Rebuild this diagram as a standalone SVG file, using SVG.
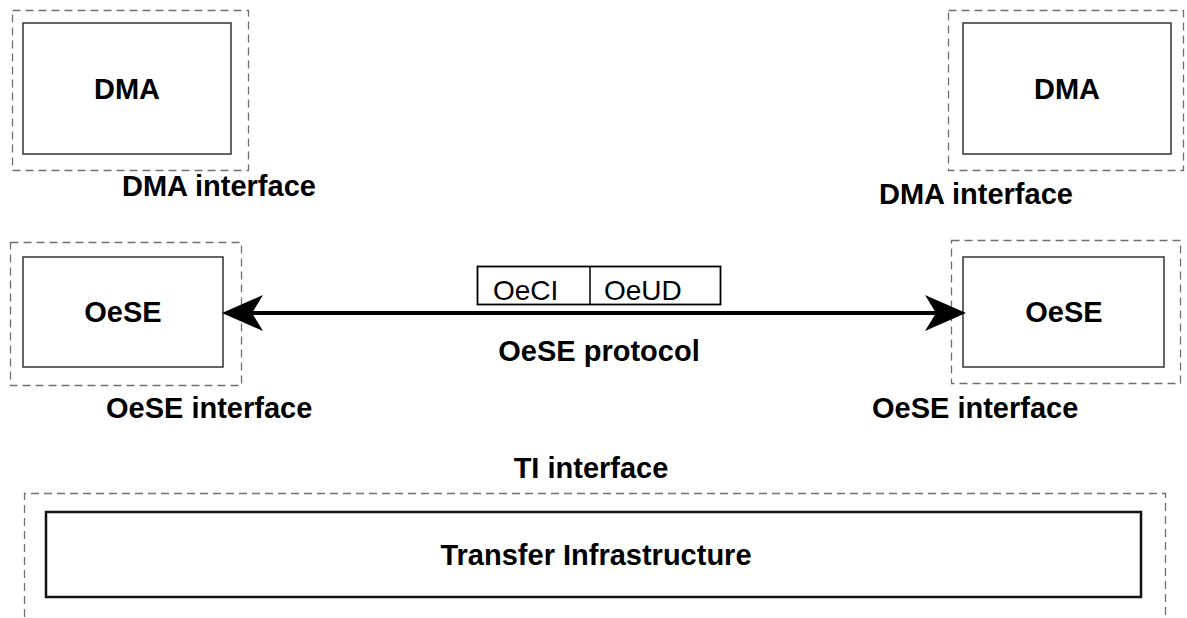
<svg xmlns="http://www.w3.org/2000/svg" width="1187" height="618" viewBox="0 0 1187 618">
  <style>
    .iface { fill: none; stroke: #707070; stroke-width: 1.3; stroke-dasharray: 8 5; }
    .box { fill: #ffffff; stroke: #333333; stroke-width: 1.5; }
    .bold { font-family: "Liberation Sans", Arial, sans-serif; font-weight: bold; font-size: 29px; fill: #000000; }
    .plain { font-family: "Liberation Sans", Arial, sans-serif; font-size: 28px; fill: #000000; }
    .mid { text-anchor: middle; }
  </style>
  <defs>
    <marker id="head" markerUnits="userSpaceOnUse" markerWidth="41" markerHeight="36" refX="11" refY="18" orient="auto-start-reverse" overflow="visible">
      <path d="M0,0 L41,18 L0,36 L11,18 Z" fill="#000000"/>
    </marker>
  </defs>
  <rect width="1187" height="618" fill="#ffffff"/>

  <!-- DMA, left -->
  <g id="dma-left">
    <rect class="iface" x="12.5" y="10.5" width="236" height="160"/>
    <rect class="box" x="23" y="23" width="208" height="131"/>
    <text class="bold mid" x="127" y="99">DMA</text>
    <text class="bold" x="122" y="196">DMA interface</text>
  </g>

  <!-- DMA, right -->
  <g id="dma-right">
    <rect class="iface" x="948.5" y="10.5" width="235" height="160"/>
    <rect class="box" x="963" y="23" width="208" height="131"/>
    <text class="bold mid" x="1067" y="99">DMA</text>
    <text class="bold" x="879" y="204">DMA interface</text>
  </g>

  <!-- OeSE, left -->
  <g id="oese-left">
    <rect class="iface" x="10.5" y="242.5" width="231" height="143"/>
    <rect class="box" x="23" y="257" width="200" height="110"/>
    <text class="bold mid" x="123" y="322">OeSE</text>
    <text class="bold" x="106" y="418">OeSE interface</text>
  </g>

  <!-- OeSE, right -->
  <g id="oese-right">
    <rect class="iface" x="951.5" y="240.5" width="229" height="143"/>
    <rect class="box" x="963" y="257" width="201" height="110"/>
    <text class="bold mid" x="1064" y="322">OeSE</text>
    <text class="bold" x="872" y="418">OeSE interface</text>
  </g>

  <!-- Transfer infrastructure -->
  <g id="ti">
    <text class="bold mid" x="591" y="478">TI interface</text>
    <path class="iface" d="M24.5,630 V493.5 H1165.5 V630"/>
    <rect x="46" y="512" width="1095" height="85" fill="#ffffff" stroke="#111111" stroke-width="2.5"/>
    <text class="bold mid" x="596" y="565">Transfer Infrastructure</text>
  </g>

  <!-- Protocol data unit -->
  <g id="pdu">
    <rect x="477.5" y="266.5" width="243" height="38" fill="#ffffff" stroke="#000000" stroke-width="1.8"/>
    <line x1="590" y1="266.5" x2="590" y2="304.5" stroke="#000000" stroke-width="1.5"/>
    <text class="plain" x="493" y="300">OeCI</text>
    <text class="plain" x="604" y="300">OeUD</text>
  </g>

  <!-- Connectors -->
  <g id="connectors">
    <line x1="252" y1="313" x2="936" y2="313" stroke="#000000" stroke-width="4" marker-start="url(#head)" marker-end="url(#head)"/>
    <text class="bold mid" x="599" y="361">OeSE protocol</text>
  </g>
</svg>
